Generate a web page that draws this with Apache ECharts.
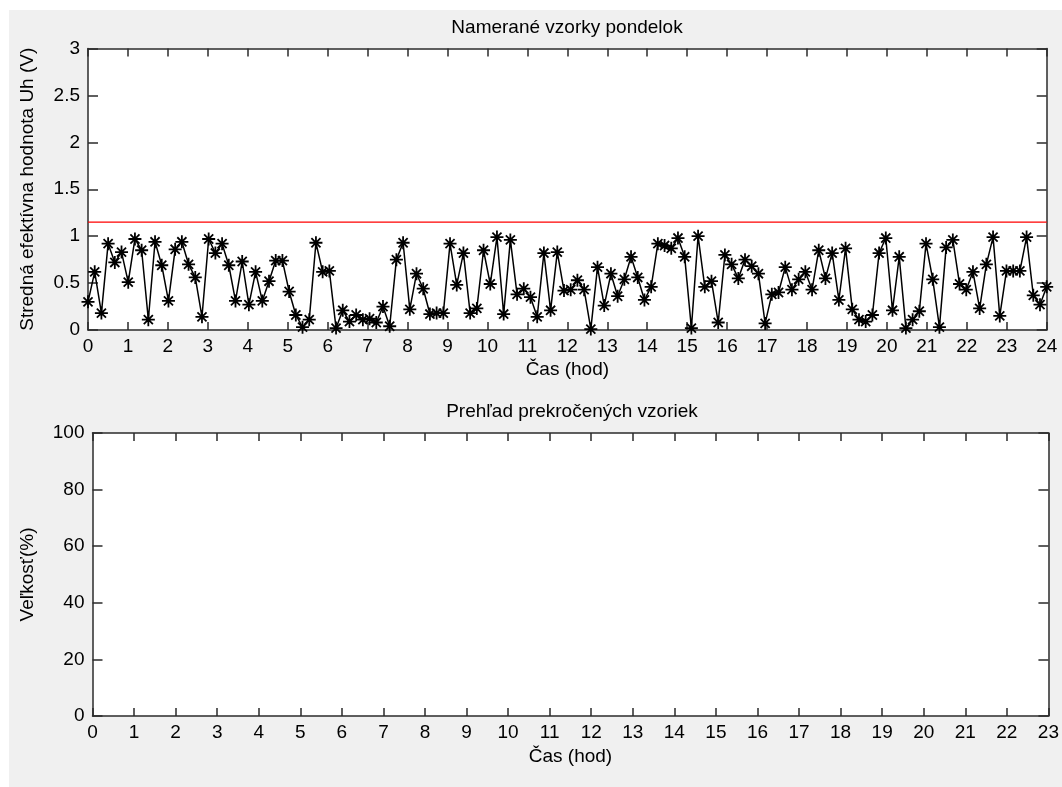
<!DOCTYPE html>
<html>
<head>
<meta charset="utf-8">
<script src="https://cdn.jsdelivr.net/npm/echarts@6/dist/echarts.min.js"></script>
<style>
  html, body { margin: 0; padding: 0; background: #fff; }
  #main { position: absolute; left: 9px; top: 10px; width: 1053px; height: 777px; }
</style>
</head>
<body>
<div id="main"></div>
<script>
// namerane hodnoty Uh (V), vzorky kazdych ~10 min
var samples = [
  0.30, 0.62, 0.18, 0.92, 0.72, 0.83, 0.51, 0.97, 0.85, 0.11, 0.94, 0.69,
  0.31, 0.86, 0.94, 0.70, 0.56, 0.14, 0.97, 0.82, 0.92, 0.69, 0.31, 0.73,
  0.27, 0.62, 0.31, 0.52, 0.74, 0.74, 0.41, 0.16, 0.03, 0.11, 0.93, 0.62,
  0.63, 0.02, 0.21, 0.09, 0.16, 0.11, 0.12, 0.08, 0.25, 0.04, 0.75, 0.93,
  0.22, 0.60, 0.44, 0.17, 0.18, 0.18, 0.92, 0.48, 0.82, 0.18, 0.23, 0.85,
  0.49, 0.99, 0.17, 0.96, 0.38, 0.44, 0.35, 0.14, 0.82, 0.21, 0.83, 0.42,
  0.43, 0.53, 0.43, 0.01, 0.67, 0.26, 0.60, 0.36, 0.54, 0.78, 0.56, 0.32,
  0.46, 0.92, 0.90, 0.87, 0.98, 0.78, 0.02, 1.00, 0.46, 0.52, 0.08, 0.80,
  0.70, 0.55, 0.75, 0.68, 0.60, 0.07, 0.38, 0.40, 0.67, 0.43, 0.54, 0.62,
  0.43, 0.85, 0.55, 0.82, 0.32, 0.87, 0.22, 0.11, 0.09, 0.16, 0.82, 0.98,
  0.21, 0.78, 0.02, 0.11, 0.20, 0.92, 0.54, 0.03, 0.88, 0.96, 0.49, 0.43,
  0.62, 0.23, 0.70, 0.99, 0.15, 0.63, 0.63, 0.63, 0.99, 0.37, 0.27, 0.46
];
var dayStart = 0, dayEnd = 24;
var limitValue = 1.15;       // hranica (cervena ciara)
var exceeded = [];           // prekrocene vzorky - ziadne
var hourTicksTop = [0, 24];
var hourTicksBottom = [0, 23];
var percentRange = [0, 100];

var font = '"Liberation Sans", Arial, sans-serif';
var fs = 19;
var axisCol = '#2b2b2b';

var chart = echarts.init(document.getElementById('main'));

var points = samples.map(function (v, i) {
  return [dayStart + i * (dayEnd - dayStart) / (samples.length - 1), v];
});

var star = 'path://M0,10L20,10M10,0L10,20M3,3L17,17M17,3L3,17';

function xAx(grid, min, max, pos, name, gap) {
  return {
    type: 'value', gridIndex: grid, min: min, max: max, interval: 1,
    position: pos,
    name: name || '', nameLocation: 'middle', nameGap: gap || 30,
    nameTextStyle: { fontFamily: font, fontSize: fs, color: '#000' },
    axisLine: { show: true, onZero: false, lineStyle: { color: axisCol, width: 1.5 } },
    axisTick: { show: true, inside: true, length: 8, lineStyle: { color: axisCol, width: 1.5 } },
    axisLabel: { show: pos === 'bottom', margin: 7, fontFamily: font, fontSize: fs, color: '#000' },
    splitLine: { show: false }
  };
}
function yAx(grid, min, max, step, pos, name, gap) {
  return {
    type: 'value', gridIndex: grid, min: min, max: max, interval: step,
    position: pos,
    name: name || '', nameLocation: 'middle', nameGap: gap || 50,
    nameTextStyle: { fontFamily: font, fontSize: fs, color: '#000' },
    axisLine: { show: true, onZero: false, lineStyle: { color: axisCol, width: 1.5 } },
    axisTick: { show: true, inside: true, length: 10, lineStyle: { color: axisCol, width: 1.5 } },
    axisLabel: { show: pos === 'left', margin: 8, fontFamily: font, fontSize: fs, color: '#000' },
    splitLine: { show: false }
  };
}

var option = {
  backgroundColor: '#f0f0f0',
  animation: false,
  title: [
    { text: 'Namerané vzorky pondelok', left: 558, top: 8, padding: 0, textAlign: 'center',
      textStyle: { fontFamily: font, fontSize: fs, fontWeight: 'normal', color: '#000' } },
    { text: 'Prehľad prekročených vzoriek', left: 563, top: 392, padding: 0, textAlign: 'center',
      textStyle: { fontFamily: font, fontSize: fs, fontWeight: 'normal', color: '#000' } }
  ],
  grid: [
    { left: 79, top: 38.5, right: 15.3, height: 281.5, show: true, backgroundColor: '#fff', borderWidth: 0 },
    { left: 83.5, top: 423, right: 10, height: 283, show: true, backgroundColor: '#fff', borderWidth: 0 }
  ],
  xAxis: [
    xAx(0, hourTicksTop[0], hourTicksTop[1], 'bottom', 'Čas (hod)', 30),
    xAx(0, hourTicksTop[0], hourTicksTop[1], 'top'),
    xAx(1, hourTicksBottom[0], hourTicksBottom[1], 'bottom', 'Čas (hod)', 31),
    xAx(1, hourTicksBottom[0], hourTicksBottom[1], 'top')
  ],
  yAxis: [
    yAx(0, 0, 3, 0.5, 'left', 'Stredná efektívna hodnota Uh (V)', 51),
    yAx(0, 0, 3, 0.5, 'right'),
    yAx(1, percentRange[0], percentRange[1], 20, 'left', 'Veľkosť(%)', 55),
    yAx(1, percentRange[0], percentRange[1], 20, 'right')
  ],
  series: [
    {
      type: 'line', xAxisIndex: 0, yAxisIndex: 0,
      data: [[dayStart, limitValue], [dayEnd, limitValue]],
      showSymbol: false, lineStyle: { color: '#ff0000', width: 1.3 }
    },
    {
      type: 'line', xAxisIndex: 0, yAxisIndex: 0,
      data: points,
      symbol: star, symbolSize: 13, showAllSymbol: true,
      lineStyle: { color: '#000', width: 1.5 },
      itemStyle: { color: 'rgba(0,0,0,0)', borderColor: '#000', borderWidth: 1.8 }
    },
    {
      type: 'bar', xAxisIndex: 2, yAxisIndex: 2, data: exceeded
    }
  ]
};
chart.setOption(option);
</script>
</body>
</html>
